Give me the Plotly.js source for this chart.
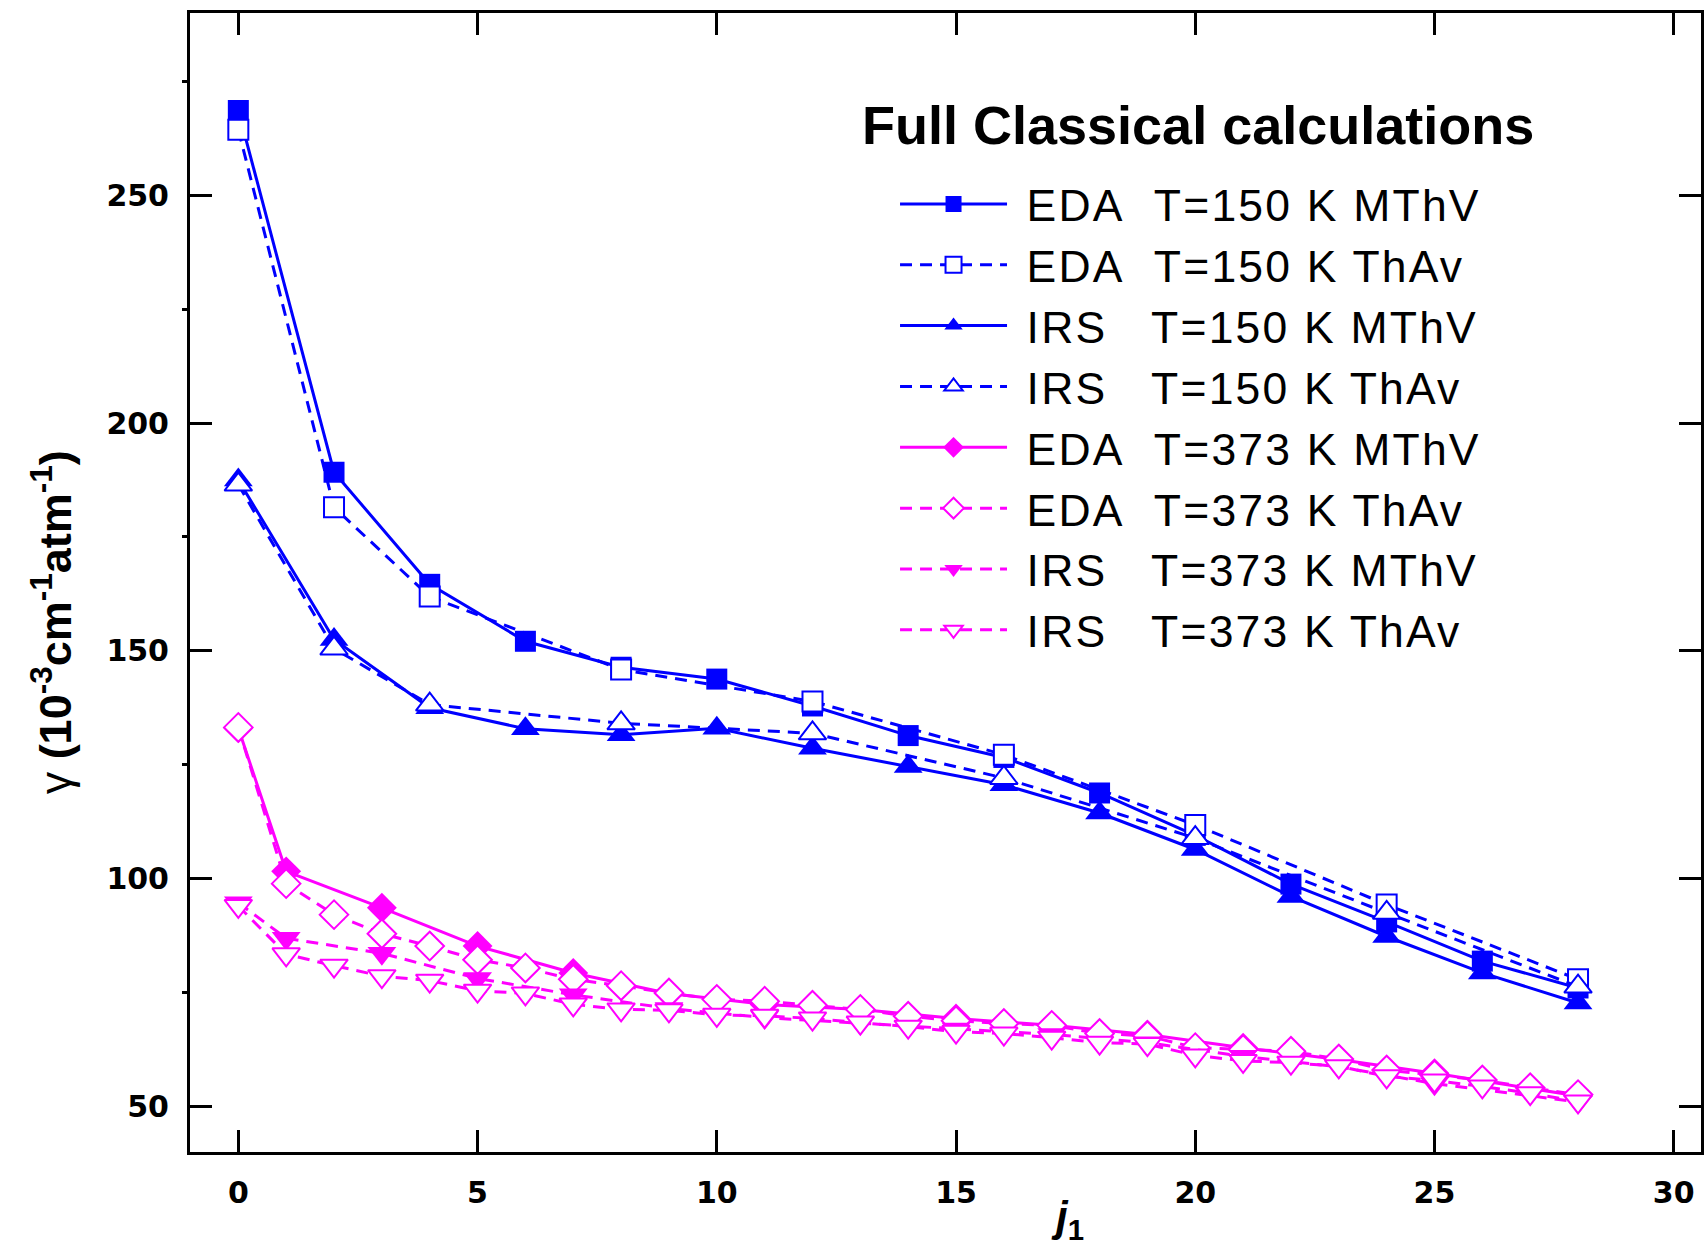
<!DOCTYPE html>
<html>
<head>
<meta charset="utf-8">
<script src="https://cdn.plot.ly/plotly-3.0.1.min.js"></script>
<style>html,body{margin:0;padding:0;background:#fff;}#chart{width:1704px;height:1247px;}</style>
</head>
<body>
<div id="chart"></div>
<script>
// ---- data ----
const jEven = [0,2,4,6,8,10,12,14,16,18,20,22,24,26,28];
const jThAv150 = [0,2,4,8,12,16,20,24,28];
const jAll = [0,1,2,3,4,5,6,7,8,9,10,11,12,13,14,15,16,17,18,19,20,21,22,23,24,25,26,27,28];
const jOdd = [0,1,3,5,7,9,11,13,15,17,19,21,23,25,28];

const eda150MThV = [268.6,189.2,164.6,152.1,146.4,143.8,137.9,131.4,126.6,118.8,109.5,98.8,90.5,81.9,76.0];
const eda150ThAv = [264.4,181.5,161.9,145.9,138.9,127.2,111.8,94.3,77.9];
const irs150MThV = [187.5,152.5,137.5,132.9,131.6,133.0,128.6,124.6,120.6,114.4,106.4,96.1,87.3,79.3,72.7];
const irs150ThAv = [186.5,150.5,138.2,134.1,131.9,122.1,108.9,92.5,76.3];

const eda373MThV = [133.0,101.6,93.6,85.2,79.3,74.8,72.4,71.3,69.3,67.8,65.8,62.9,60.3,57.3,52.3];
const eda373ThAv = [133.2,98.9,92.1,87.9,85.2,82.2,80.4,77.9,76.5,74.9,73.5,73.1,72.2,71.3,69.8,68.8,68.2,67.8,66.0,65.5,62.9,62.5,62.1,60.4,58.0,56.9,55.8,54.1,52.6];
const irs373MThV = [94.7,86.9,83.6,78.1,74.5,71.5,69.5,68.3,67.0,65.8,64.0,61.0,58.7,55.0,51.0];
const irs373ThAv = [94.0,83.4,80.9,78.6,77.6,75.4,74.8,72.4,71.3,71.1,70.1,69.9,69.3,68.4,67.5,66.4,66.0,65.1,64.0,63.7,61.2,60.0,59.6,58.8,56.6,55.7,54.4,52.9,51.1];

const names = [
  "EDA\u00A0\u00A0T=150 K MThV",
  "EDA\u00A0\u00A0T=150 K ThAv",
  "IRS\u00A0\u00A0\u00A0T=150 K MThV",
  "IRS\u00A0\u00A0\u00A0T=150 K ThAv",
  "EDA\u00A0\u00A0T=373 K MThV",
  "EDA\u00A0\u00A0T=373 K ThAv",
  "IRS\u00A0\u00A0\u00A0T=373 K MThV",
  "IRS\u00A0\u00A0\u00A0T=373 K ThAv"
];
const legendTitle = "Full Classical calculations";
const xTitle = "<i>j</i><sub>1</sub>";
const yTitle = "<span style=\"font-weight:normal\">γ</span> (10<sup>-3</sup>cm<sup>-1</sup>atm<sup>-1</sup>)";

const BLUE = "#0000FF", MAG = "#FF00FF";
const DASH = "12px,8px";

function label(n) {
  return "<span style=\"letter-spacing:2.2px\">\u00A0" + n + "</span>";
}

function tr(x, y, name, color, symbol, filled, dash, size) {
  return {
    x: x, y: y, name: label(name), type: "scatter", mode: "lines+markers",
    line: {color: color, width: 3, dash: dash},
    marker: {symbol: symbol, size: size, color: filled ? color : "#FFFFFF",
             line: {color: color, width: filled ? 0 : 2}}
  };
}

const data = [
  tr(jEven, eda150MThV, names[0], BLUE, "square", true, "solid", 21),
  tr(jThAv150, eda150ThAv, names[1], BLUE, "square", false, DASH, 20),
  tr(jEven, irs150MThV, names[2], BLUE, "triangle-up", true, "solid", 25),
  tr(jThAv150, irs150ThAv, names[3], BLUE, "triangle-up", false, DASH, 24),
  tr(jOdd, eda373MThV, names[4], MAG, "diamond", true, "solid", 23),
  tr(jAll, eda373ThAv, names[5], MAG, "diamond", false, DASH, 22),
  tr(jOdd, irs373MThV, names[6], MAG, "triangle-down", true, DASH, 25),
  tr(jAll, irs373ThAv, names[7], MAG, "triangle-down", false, DASH, 24)
];

const tickFont = {family: "DejaVu Sans", size: 30, color: "#000", weight: "bold"};
const txtFamily = "Liberation Sans, Arial, sans-serif";

const layout = {
  width: 1704, height: 1247,
  margin: {l: 190, r: 3, t: 13, b: 95, pad: 0},
  paper_bgcolor: "#FFFFFF", plot_bgcolor: "#FFFFFF",
  showlegend: true,
  xaxis: {
    range: [-1.01, 30.57], tickvals: [0,5,10,15,20,25,30],
    showgrid: false, zeroline: false,
    showline: true, linecolor: "#000", linewidth: 3, mirror: "ticks",
    ticks: "inside", ticklen: 22, tickwidth: 3, tickcolor: "#000",
    tickfont: tickFont, ticklabelstandoff: 12
  },
  yaxis: {
    range: [40, 290], tickvals: [50,100,150,200,250],
    showgrid: false, zeroline: false,
    showline: true, linecolor: "#000", linewidth: 3, mirror: "ticks",
    ticks: "inside", ticklen: 22, tickwidth: 3, tickcolor: "#000",
    tickfont: tickFont, ticklabelstandoff: 12,
    minor: {tickvals: [75,125,175,225,275], ticks: "outside", ticklen: 5, tickwidth: 3, tickcolor: "#000", showgrid: false}
  },
  legend: {
    x: 0.4666, y: 0.8635, xanchor: "left", yanchor: "top",
    bgcolor: "rgba(0,0,0,0)", borderwidth: 0,
    font: {family: txtFamily, size: 44.5, color: "#000"},
    itemwidth: 107, tracegroupgap: 0
  },
  annotations: [
    {xref: "paper", yref: "paper", x: 0.4435, y: 0.902, xanchor: "left", yanchor: "middle",
     showarrow: false, text: legendTitle,
     font: {family: txtFamily, size: 54, color: "#000", weight: "bold"}},
    {xref: "paper", yref: "paper", x: 0, y: 0.465, xshift: -138, xanchor: "center", yanchor: "middle",
     textangle: -90, showarrow: false, text: yTitle,
     font: {family: txtFamily, size: 45, color: "#000", weight: "bold"}},
    {xref: "paper", yref: "paper", x: 0.581, y: 0, yshift: -67, xanchor: "center", yanchor: "middle",
     showarrow: false, text: xTitle,
     font: {family: txtFamily, size: 42, color: "#000", weight: "bold"}}
  ]
};

Plotly.newPlot("chart", data, layout, {displayModeBar: false, staticPlot: true});
</script>
</body>
</html>
